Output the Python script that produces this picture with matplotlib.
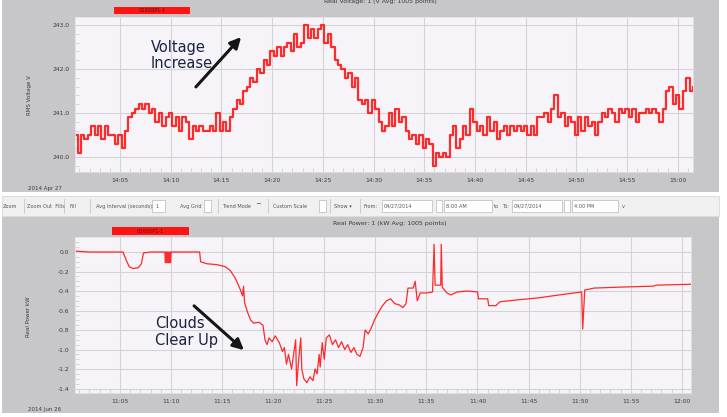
import numpy as np
import matplotlib
matplotlib.use("Agg")
import matplotlib.pyplot as plt
from matplotlib.patches import Rectangle
from matplotlib.ticker import FixedLocator, MultipleLocator

# ---------------- data ----------------
# Voltage, sampled every 20 s, starting 14:00:30 (minutes after 14:00)
volt_start_min = 0.5
voltage = [
    240.5, 240.1, 240.5,  240.4, 240.5, 240.7,  240.5, 240.7, 240.4,  240.7, 240.5, 240.5,
    240.3, 240.5, 240.2,  240.6, 240.9, 241.0,  241.1, 241.2, 241.1,  241.2, 241.0, 241.1,
    240.8, 241.0, 240.7,  240.9, 241.0, 240.7,  240.9, 240.6, 240.9,  240.8, 240.4, 240.7,
    240.6, 240.7, 240.6,  240.6, 240.7, 240.6,  241.0, 240.6, 240.8,  240.6, 240.9, 241.1,
    241.3, 241.2, 241.5,  241.6, 241.8, 241.7,  242.0, 241.9, 242.2,  242.1, 242.4, 242.3,
    242.5, 242.3, 242.5,  242.6, 242.4, 242.8,  242.5, 242.6, 243.0,  242.7, 242.9, 242.7,
    242.9, 243.0, 242.6,  242.8, 242.5, 242.2,  242.1, 242.0, 241.8,  241.9, 241.6, 241.8,
    241.3, 241.2, 241.3,  241.0, 241.3, 241.1,  240.8, 240.6, 240.7,  241.0, 240.7, 241.1,
    240.8, 240.9, 240.6,  240.4, 240.5, 240.3,  240.5, 240.2, 240.4,  240.3, 239.8, 240.1,
    240.0, 240.1, 240.0,  240.5, 240.7, 240.2,  240.4, 240.7, 240.5,  241.1, 240.8, 240.6,
    240.7, 240.5, 240.9,  240.6, 240.8, 240.4,  240.6, 240.7, 240.5,  240.7, 240.6, 240.7,
    240.6, 240.7, 240.5,  240.7, 240.5, 240.9,  240.9, 241.0, 240.8,  241.1, 241.4, 240.9,
    241.0, 240.7, 240.9,  240.8, 240.5, 240.9,  240.6, 240.9, 240.7,  240.8, 240.5, 240.8,
    241.0, 240.9, 241.1,  241.0, 240.8, 241.1,  241.0, 241.1, 240.9,  241.1, 240.8, 241.0,
    241.0, 241.1, 241.0,  241.1, 241.0, 240.8,  241.1, 241.5, 241.6,  241.2, 241.4, 241.1,
    241.5, 241.8, 241.5,  241.6,
]
volt_ticks = [5, 10, 15, 20, 25, 30, 35, 40, 45, 50, 55, 60]
volt_tick_labels = ["14:05", "14:10", "14:15", "14:20", "14:25", "14:30",
                    "14:35", "14:40", "14:45", "14:50", "14:55", "15:00"]
volt_yticks = [240.0, 241.0, 242.0, 243.0]

# Real power (minutes after 11:00, kW)
power_t = [0.6, 2.0, 3.5, 5.3, 5.6, 5.9, 6.3, 6.8, 7.1, 7.3, 8.0, 9.4,
           9.45, 9.5, 9.55, 9.6, 9.65, 9.7, 9.75, 9.8, 9.85, 9.9, 9.95, 10.0,
           11.0, 12.8, 12.9, 13.5, 14.5, 15.3, 15.8, 16.3, 16.8, 17.0, 17.1, 17.2,
           17.5, 17.8, 18.1, 18.6, 19.0, 19.2, 19.4, 19.6, 19.9, 20.2, 20.6, 20.9,
           21.1, 21.3, 21.5, 21.8, 22.0, 22.2, 22.3, 22.5, 22.7, 22.8, 23.0, 23.3,
           23.6, 23.9, 24.1, 24.3, 24.5, 24.6, 24.8, 25.0, 25.2, 25.5, 25.8, 26.1,
           26.4, 26.7, 27.0, 27.3, 27.6, 27.9, 28.2, 28.5, 28.8, 29.0, 29.3, 29.6,
           29.9, 30.3, 30.7, 31.1, 31.5, 31.9, 32.3, 32.7, 33.0, 33.2, 33.7, 33.9,
           34.1, 34.4, 35.0, 35.6, 35.75, 35.85, 36.4, 36.45, 36.55, 37.0, 37.4, 38.0,
           39.0, 40.0, 40.1, 41.0, 41.1, 41.8, 42.2, 44.0, 46.0, 48.0, 50.2, 50.3,
           50.5, 51.4, 54.0, 57.2, 57.5, 61.1]
power_kw = [0.01, 0.0, 0.0, 0.0, -0.08, -0.15, -0.17, -0.16, -0.12, -0.01, 0.0, 0.0,
            -0.11, 0.0, -0.11, 0.0, -0.11, 0.0, -0.11, 0.0, -0.11, 0.0, -0.11, 0.0,
            0.0, 0.0, -0.10, -0.12, -0.13, -0.15, -0.19, -0.27, -0.39, -0.45, -0.35, -0.52,
            -0.62, -0.70, -0.73, -0.72, -0.75, -0.90, -0.95, -0.88, -0.92, -0.86, -0.93, -1.02,
            -0.98, -1.15, -1.05, -1.20, -1.05, -0.90, -1.37, -1.10, -0.88, -1.20, -1.30, -1.34,
            -1.28, -1.32, -1.20, -1.25, -1.05, -1.18, -0.93, -1.10, -0.88, -0.85, -0.95, -0.90,
            -0.98, -0.92, -1.00, -0.95, -1.03, -0.98, -1.05, -1.07, -0.98, -0.80, -0.84, -0.78,
            -0.70, -0.62, -0.55, -0.50, -0.48, -0.53, -0.54, -0.57, -0.53, -0.37, -0.37, -0.30,
            -0.50, -0.42, -0.42, -0.41, 0.08, -0.34, -0.34, 0.08, -0.36, -0.42, -0.44, -0.41,
            -0.40, -0.41, -0.48, -0.48, -0.55, -0.55, -0.51, -0.49, -0.47, -0.44, -0.41, -0.79,
            -0.39, -0.37, -0.36, -0.35, -0.34, -0.33]
power_ticks = [5, 10, 15, 20, 25, 30, 35, 40, 45, 50, 55, 60]
power_tick_labels = ["11:05", "11:10", "11:15", "11:20", "11:25", "11:30",
                     "11:35", "11:40", "11:45", "11:50", "11:55", "12:00"]
power_yticks = [0.0, -0.2, -0.4, -0.6, -0.8, -1.0, -1.2, -1.4]

# ---------------- figure ----------------
W, H = 727, 417
fig = plt.figure(figsize=(W / 100, H / 100), dpi=100, facecolor="white")

PANEL = "#c7c6c9"
PLOTBG = "#f6f4f8"
GRID = "#d3d2d6"
RED = "#ff1414"
TXT = "#3a3a3a"

bg = fig.add_axes([0, 0, 1, 1])
bg.set_xlim(0, W)
bg.set_ylim(H, 0)
bg.axis("off")
bg.add_patch(Rectangle((2, 0), 717, 192, facecolor=PANEL, edgecolor="none"))
bg.add_patch(Rectangle((2, 196), 717, 20, facecolor="#f0f0f1", edgecolor="#d8d8d8", lw=0.6))
bg.add_patch(Rectangle((2, 217), 717, 196, facecolor=PANEL, edgecolor="none"))

# toolbar items
tb_y = 206
fs_tb = 3.6
def tbtext(x, s):
    bg.text(x, tb_y, s, fontsize=fs_tb, color="#555555", va="center", ha="left")
def tbbox(x, w):
    bg.add_patch(Rectangle((x, 200), w, 12, facecolor="white", edgecolor="#b8b8b8", lw=0.5))
def tbsep(x):
    bg.plot([x, x], [199, 213], color="#c8c8c8", lw=0.6)

tbtext(3, "Zoom")
tbsep(24)
tbtext(27, "Zoom Out  Fills")
tbsep(64)
tbtext(70, "Fill")
tbsep(90)
tbtext(96, "Avg Interval (seconds):")
tbbox(152, 13)
tbtext(156, "1")
tbtext(180, "Avg Grid")
tbbox(204, 7)
tbsep(218)
tbtext(222, "Trend Mode")
tbtext(256, "▔")
tbsep(268)
tbtext(273, "Custom Scale")
tbbox(319, 7)
tbsep(330)
tbtext(334, "Show ▾")
tbsep(360)
tbtext(364, "From:")
tbbox(382, 50)
tbtext(384, "04/27/2014")
tbbox(436, 6)
tbbox(444, 48)
tbtext(446, "8:00 AM")
tbtext(494, "to")
tbtext(502, "To:")
tbbox(512, 50)
tbtext(514, "04/27/2014")
tbbox(564, 6)
tbbox(572, 46)
tbtext(574, "4:00 PM")
tbtext(622, "v")

# titles and legends
bg.text(380, 1, "Real Voltage: 1 (V Avg: 1005 points)", fontsize=4.5, color=TXT,
        ha="center", va="center")
bg.text(390, 223, "Real Power: 1 (kW Avg: 1005 points)", fontsize=4.5, color=TXT,
        ha="center", va="center")
bg.add_patch(Rectangle((114, 7), 76, 7, facecolor=RED, edgecolor="none"))
bg.text(152, 10.5, "0000SP1-1", fontsize=3.6, color="#5a1010", ha="center", va="center")
bg.add_patch(Rectangle((112, 227), 77, 8, facecolor=RED, edgecolor="none"))
bg.text(150, 231, "0000SP1-1", fontsize=3.6, color="#5a1010", ha="center", va="center")
bg.text(28, 188, "2014 Apr 27", fontsize=4, color=TXT, ha="left", va="center")
bg.text(28, 409, "2014 Jun 26", fontsize=4, color=TXT, ha="left", va="center")
bg.text(29, 95, "RMS Voltage V", fontsize=4, color=TXT, rotation=90, ha="center", va="center")
bg.text(29, 317, "Real Power kW", fontsize=4, color=TXT, rotation=90, ha="center", va="center")


def style(ax):
    ax.set_facecolor(PLOTBG)
    for s in ax.spines.values():
        s.set_color("#e2e2e4")
        s.set_linewidth(0.6)
    ax.grid(True, which="major", color=GRID, lw=0.8)
    ax.tick_params(which="major", labelsize=4.3, labelcolor=TXT, length=0, pad=4)
    ax.tick_params(which="minor", direction="in", length=3, color="#cfcfd3", width=0.6)
    ax.set_axisbelow(True)


# top: voltage
ax1 = fig.add_axes([75 / W, 1 - 172 / H, (693 - 75) / W, (172 - 17) / H])
style(ax1)
t_v = volt_start_min + np.arange(len(voltage)) / 3.0
ax1.plot(t_v, voltage, drawstyle="steps-post", color=RED, lw=1.6, alpha=0.9)
ax1.set_xlim(0.57, 61.5)
ax1.set_ylim(239.66, 243.18)
ax1.xaxis.set_major_locator(FixedLocator(volt_ticks))
ax1.set_xticklabels(volt_tick_labels)
ax1.yaxis.set_major_locator(FixedLocator(volt_yticks))
ax1.set_yticklabels([f"{v:.1f}" for v in volt_yticks])
ax1.xaxis.set_minor_locator(MultipleLocator(1))
ax1.yaxis.set_minor_locator(MultipleLocator(0.2))

# bottom: power
ax2 = fig.add_axes([75 / W, 1 - 393 / H, (691 - 75) / W, (393 - 237) / H])
style(ax2)
ax2.plot(power_t, power_kw, color=RED, lw=0.9, alpha=0.9)
ax2.set_xlim(0.6, 60.9)
ax2.set_ylim(-1.446, 0.154)
ax2.xaxis.set_major_locator(FixedLocator(power_ticks))
ax2.set_xticklabels(power_tick_labels)
ax2.yaxis.set_major_locator(FixedLocator(power_yticks))
ax2.set_yticklabels([f"{v:.1f}" for v in power_yticks])
ax2.xaxis.set_minor_locator(MultipleLocator(1))
ax2.yaxis.set_minor_locator(MultipleLocator(0.05))

# overlay annotations
ov = fig.add_axes([0, 0, 1, 1], facecolor="none")
ov.set_xlim(0, W)
ov.set_ylim(H, 0)
ov.axis("off")
ann_color = "#1c2340"
ov.text(151, 47, "Voltage", fontsize=10.5, color=ann_color, ha="left", va="center")
ov.text(151, 63, "Increase", fontsize=10.5, color=ann_color, ha="left", va="center")
ov.annotate("", xy=(243, 35), xytext=(194, 89),
            arrowprops=dict(arrowstyle="-|>", lw=2.2, color="#151515", mutation_scale=16))
ov.text(155, 323, "Clouds", fontsize=10.5, color=ann_color, ha="left", va="center")
ov.text(155, 341, "Clear Up", fontsize=10.5, color=ann_color, ha="left", va="center")
ov.annotate("", xy=(246, 352), xytext=(192, 304),
            arrowprops=dict(arrowstyle="-|>", lw=2.2, color="#151515", mutation_scale=16))

fig.savefig("out.png", dpi=100, facecolor="white")
